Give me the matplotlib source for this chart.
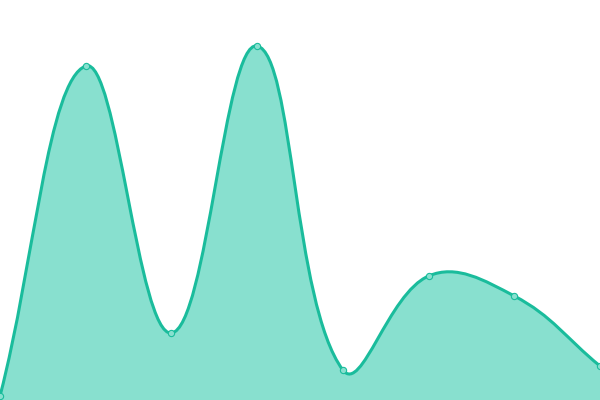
import matplotlib
matplotlib.use("Agg")
import matplotlib.pyplot as plt
import numpy as np
from matplotlib.path import Path
from matplotlib.patches import PathPatch

categories = list(range(8))
values = [4, 334, 67, 354, 30, 124, 104, 34]

LINE = "#1abc9c"
FILL = "#88e0cf"
TENSION = 0.4

fig = plt.figure(figsize=(6, 4), dpi=100)
ax = fig.add_axes([0, 0, 1, 1])
ax.set_xlim(0, len(categories) - 1)
ax.set_ylim(0, 400)
ax.axis("off")
fig.canvas.draw()

pts = ax.transData.transform(np.column_stack([categories, values]).astype(float))
W, H = fig.bbox.width, fig.bbox.height


def spline(points, t):
    n = len(points)
    cps = []
    for i in range(n):
        cur = points[i]
        prev = points[i - 1] if i > 0 else cur
        nxt = points[i + 1] if i < n - 1 else cur
        d01 = np.hypot(*(cur - prev))
        d12 = np.hypot(*(nxt - cur))
        s = d01 + d12
        s01 = d01 / s if s else 0
        s12 = d12 / s if s else 0
        fa, fb = t * s01, t * s12
        cp_prev = cur - fa * (nxt - prev)
        cp_next = cur + fb * (nxt - prev)
        cp_prev = np.clip(cp_prev, [0, 0], [W, H])
        cp_next = np.clip(cp_next, [0, 0], [W, H])
        cps.append((cp_prev, cp_next))
    return cps


cps = spline(pts, TENSION)
verts = [pts[0]]
codes = [Path.MOVETO]
for i in range(1, len(pts)):
    verts += [cps[i - 1][1], cps[i][0], pts[i]]
    codes += [Path.CURVE4] * 3

inv = ax.transData.inverted()
dverts = inv.transform(np.array(verts))

line_path = Path(dverts, codes)
fill_verts = list(dverts) + [[categories[-1], 0], [categories[0], 0], dverts[0]]
fill_codes = codes + [Path.LINETO, Path.LINETO, Path.CLOSEPOLY]
fill_path = Path(fill_verts, fill_codes)

ax.add_patch(PathPatch(fill_path, facecolor=FILL, edgecolor="none", zorder=1))
ax.add_patch(PathPatch(line_path, facecolor="none", edgecolor=LINE, lw=2.2, zorder=2))
ax.plot(categories, values, "o", ms=4.5, mfc=FILL, mec=LINE, mew=0.8, zorder=3, clip_on=False)

fig.savefig("out.png", dpi=100)
